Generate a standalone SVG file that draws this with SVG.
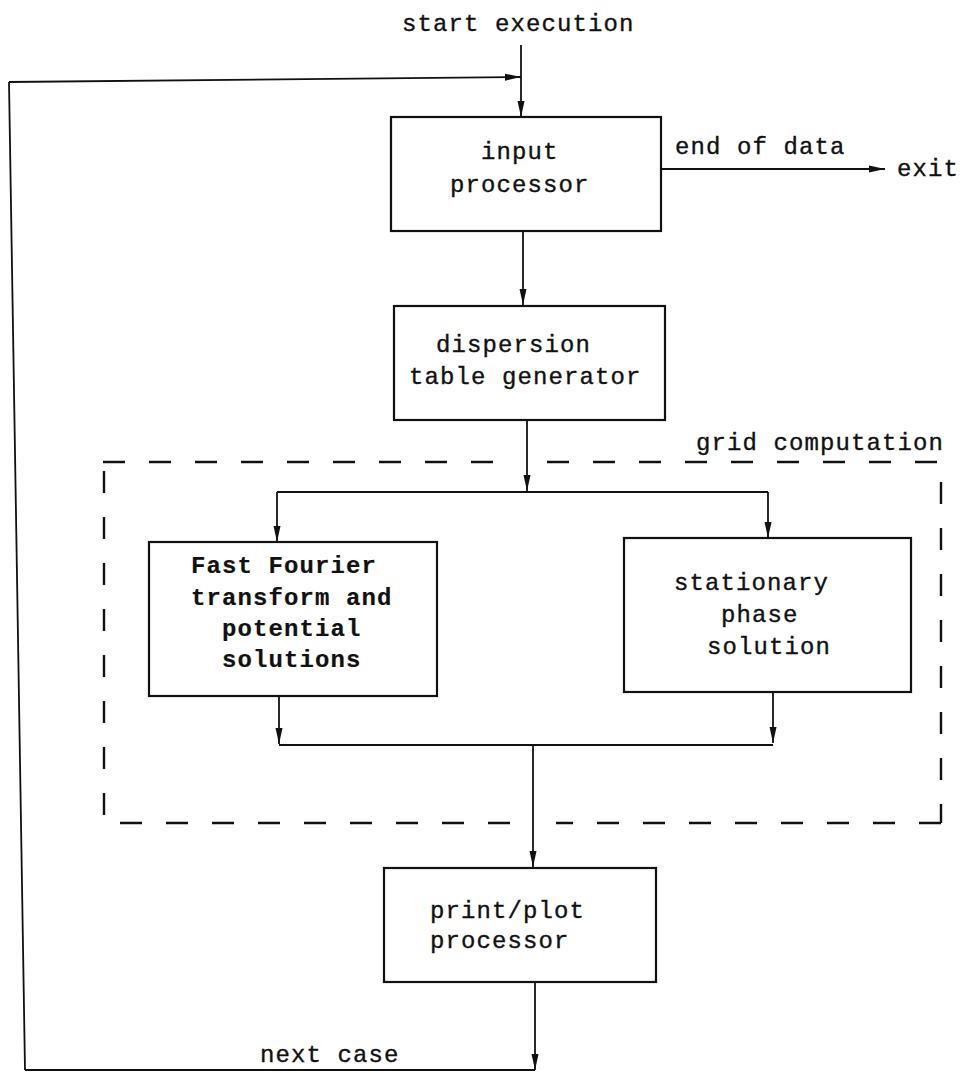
<svg xmlns="http://www.w3.org/2000/svg" width="963" height="1073" viewBox="0 0 963 1073">
<defs>
<marker id="ah" markerWidth="16" markerHeight="8" refX="16" refY="4" orient="auto" markerUnits="userSpaceOnUse">
<path d="M0,0.5 L16,4 L0,7.5 z" fill="#111"/>
</marker>
<style>
text{font-family:"Liberation Mono","Courier New",monospace;font-size:24px;letter-spacing:1.1px;fill:#111;stroke:#111;stroke-width:0.35}
.b{font-weight:bold;stroke-width:0.2}
.box{fill:none;stroke:#111;stroke-width:2.2}
.c{fill:none;stroke:#111;stroke-width:1.8}
.d{fill:none;stroke:#111;stroke-width:2.4;stroke-dasharray:22 24}
</style>
</defs>
<rect width="963" height="1073" fill="#fff"/>

<g id="labels">
<text x="402" y="31">start execution</text>
<text x="675" y="154">end of data</text>
<text x="897" y="176">exit</text>
<text x="696" y="450">grid computation</text>
<text x="260" y="1062">next case</text>
</g>

<g id="grid-computation">
<path class="d" d="M103,462 H500"/>
<path class="d" d="M547,462 H941 V823"/>
<path class="d" d="M941,823 H556"/>
<path class="d" d="M510,823 H104 V462"/>
</g>

<g id="connectors">
<path class="c" d="M9,82 L521,77" marker-end="url(#ah)"/>
<path class="c" d="M25,1070 L9,82"/>
<path class="c" d="M521,45 V117" marker-end="url(#ah)"/>
<path class="c" d="M661,169 H885" marker-end="url(#ah)"/>
<path class="c" d="M523,231 V305" marker-end="url(#ah)"/>
<path class="c" d="M527,420 V491" marker-end="url(#ah)"/>
<path class="c" d="M277,492 H768"/>
<path class="c" d="M277,492 V542" marker-end="url(#ah)"/>
<path class="c" d="M768,492 V538" marker-end="url(#ah)"/>
<path class="c" d="M279,696 V744" marker-end="url(#ah)"/>
<path class="c" d="M773,692 V743" marker-end="url(#ah)"/>
<path class="c" d="M279,745 H773"/>
<path class="c" d="M533,745 V867" marker-end="url(#ah)"/>
<path class="c" d="M535,982 V1070" marker-end="url(#ah)"/>
<path class="c" d="M25,1070 H535"/>
</g>

<g id="input-processor">
<rect class="box" x="391" y="117" width="270" height="114"/>
<text x="481" y="159">input</text>
<text x="450" y="192">processor</text>
</g>

<g id="dispersion-table-generator">
<rect class="box" x="394" y="306" width="271" height="114"/>
<text x="436" y="352">dispersion</text>
<text x="409" y="384">table generator</text>
</g>

<g id="fft">
<rect class="box" x="149" y="542" width="288" height="154"/>
<text class="b" x="191" y="573">Fast Fourier</text>
<text class="b" x="191" y="605">transform and</text>
<text class="b" x="222" y="636">potential</text>
<text class="b" x="222" y="667">solutions</text>
</g>

<g id="stationary-phase">
<rect class="box" x="624" y="538" width="287" height="154"/>
<text x="674" y="590">stationary</text>
<text x="721" y="622">phase</text>
<text x="707" y="654">solution</text>
</g>

<g id="print-plot-processor">
<rect class="box" x="384" y="868" width="272" height="114"/>
<text x="430" y="918">print/plot</text>
<text x="430" y="948">processor</text>
</g>
</svg>
